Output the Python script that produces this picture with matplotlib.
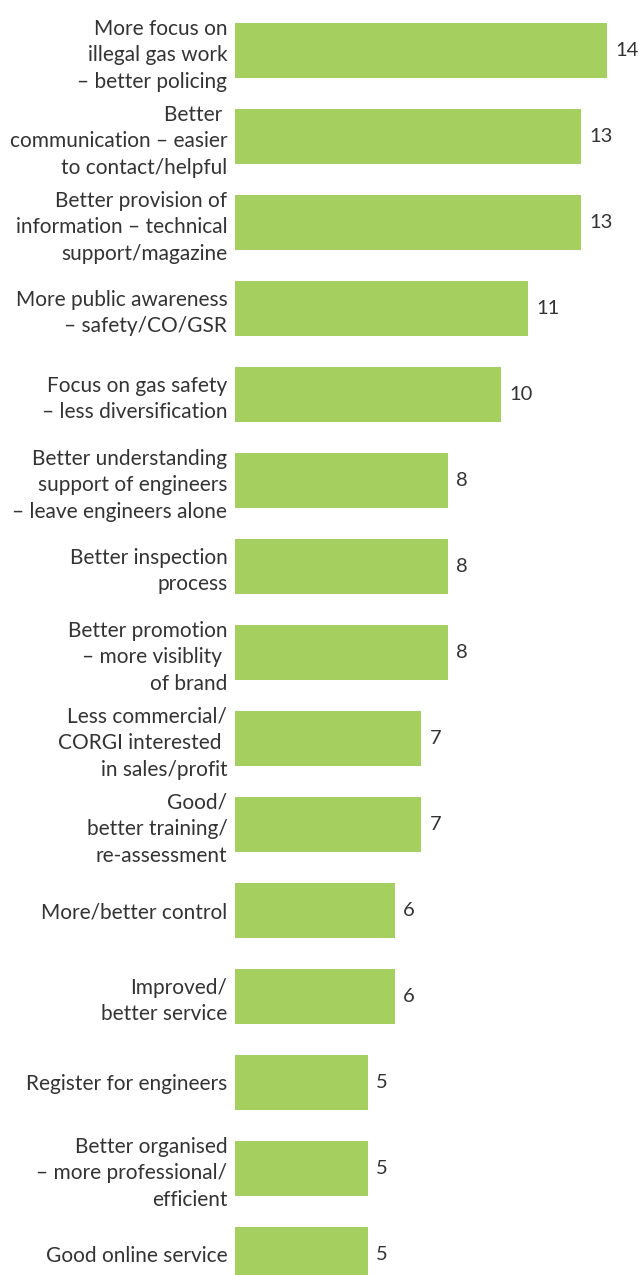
import matplotlib
matplotlib.use("Agg")
import matplotlib.pyplot as plt

categories = [
    "More focus on\nillegal gas work\n– better policing",
    "Better \ncommunication – easier\nto contact/helpful",
    "Better provision of\ninformation – technical\nsupport/magazine",
    "More public awareness\n– safety/CO/GSR",
    "Focus on gas safety\n– less diversification",
    "Better understanding\nsupport of engineers\n– leave engineers alone",
    "Better inspection\nprocess",
    "Better promotion\n– more visiblity \nof brand",
    "Less commercial/\nCORGI interested \nin sales/profit",
    "Good/\nbetter training/\nre-assessment",
    "More/better control",
    "Improved/\nbetter service",
    "Register for engineers",
    "Better organised\n– more professional/\nefficient",
    "Good online service",
]
values = [14, 13, 13, 11, 10, 8, 8, 8, 7, 7, 6, 6, 5, 5, 5]

BAR_COLOR = "#a5cf5f"
TEXT_COLOR = "#333333"
FONT = ["Lato", "DejaVu Sans"]

W, H = 639, 1275
fig = plt.figure(figsize=(W / 100, H / 100), dpi=100)
ax = fig.add_axes([235 / W, 0, (W - 235) / W, 1])

pos = list(range(len(categories)))
ax.barh(pos, values, height=55 / 86, color=BAR_COLOR, linewidth=0)

px_per_unit = 26.6
ax.set_xlim(0, (W - 235) / px_per_unit)
ax.set_ylim((H - 50) / 86, -50 / 86)

ax.set_yticks(pos)
ax.set_yticklabels(categories, fontsize=15, color=TEXT_COLOR, family=FONT,
                   linespacing=1.4)
ax.tick_params(axis="y", length=0, pad=5.5)
ax.set_xticks([])
for s in ax.spines.values():
    s.set_visible(False)

for p, v in zip(pos, values):
    ax.annotate(str(v), xy=(v, p), xytext=(6, 0), textcoords="offset points",
                ha="left", va="center", fontsize=14.5, color=TEXT_COLOR,
                family=FONT)

fig.savefig("out.png", dpi=100)
